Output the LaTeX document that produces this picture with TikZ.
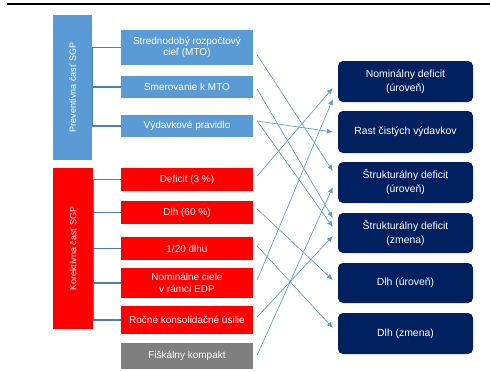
\documentclass[tikz,border=0pt]{standalone}
\usepackage{fontspec}
\setmainfont{Liberation Sans}
\usetikzlibrary{arrows.meta}
\definecolor{sgpblue}{HTML}{5B9BD5}
\definecolor{sgpred}{HTML}{FF0000}
\definecolor{sgpgray}{HTML}{7F7F7F}
\definecolor{sgpnavy}{HTML}{002060}
\definecolor{brcol}{HTML}{4A7EBB}
\definecolor{arcol}{HTML}{5B9BD5}
\tikzset{
  bar/.style={inner sep=0pt, text=white, font=\fontsize{9}{10}\selectfont, rotate=90},
  lbox/.style={inner sep=0pt, minimum width=132pt, text=white, align=center,
    font=\fontsize{10}{11.5}\selectfont},
  rbox/.style={inner sep=0pt, minimum width=135pt, text=white, align=center,
    fill=sgpnavy, rounded corners=5pt, font=\fontsize{10.4}{14}\selectfont},
  br/.style={draw=brcol, line width=1.1pt},
  link/.style={draw=arcol, line width=0.65pt, -{Latex[length=6pt,width=5pt]}}
}
\begin{document}
\begin{tikzpicture}[x=1pt,y=-1pt]
\useasboundingbox (0,0) rectangle (491,372);
\draw[line width=1.2pt] (7,4) -- (490,4);

% bars
\node[bar, fill=sgpblue, minimum width=145pt, minimum height=39pt] (prev) at (72.5,87.5) {Preventívna časť SGP};
\node[bar, fill=sgpred, minimum width=161pt, minimum height=40pt] (kor) at (73,248.5) {Korektívna časť SGP};

% left boxes
\node[lbox, fill=sgpblue, minimum height=35pt] (mto) at (187,47.5) {Strednodobý rozpočtový\\cieľ (MTO)};
\node[lbox, fill=sgpblue, minimum height=22pt] (smer) at (187,87) {Smerovanie k MTO};
\node[lbox, fill=sgpblue, minimum height=22pt] (vyd) at (187,126) {Výdavkové pravidlo};
\node[lbox, fill=sgpred, minimum height=23pt] (def) at (187,179.5) {Deficit (3 \%)};
\node[lbox, fill=sgpred, minimum height=23pt] (dlh) at (187,212.5) {Dlh (60 \%)};
\node[lbox, fill=sgpred, minimum height=23pt] (d20) at (187,248.5) {1/20 dlhu};
\node[lbox, fill=sgpred, minimum height=30pt] (nom) at (187,283) {Nominálne ciele\\v rámci EDP};
\node[lbox, fill=sgpred, minimum height=28pt] (roc) at (187,320) {Ročné konsolidačné úsilie};
\node[lbox, fill=sgpgray, minimum height=26pt] (fis) at (187,356) {Fiškálny kompakt};

% right boxes
\node[rbox, minimum height=41pt] (nd) at (405.5,81.5) {Nominálny deficit\\(úroveň)};
\node[rbox, minimum height=42pt] (rast) at (405.5,132) {Rast čistých výdavkov};
\node[rbox, minimum height=41pt] (su) at (405.5,182.5) {Štrukturálny deficit\\(úroveň)};
\node[rbox, minimum height=40pt] (sz) at (405.5,233) {Štrukturálny deficit\\(zmena)};
\node[rbox, minimum height=40pt] (du) at (405.5,283) {Dlh (úroveň)};
\node[rbox, minimum height=41pt] (dz) at (405.5,333.5) {Dlh (zmena)};

% brackets
\path (prev.south) ++(0,-15) coordinate (pj);
\path (kor.south) ++(0,-14) coordinate (kj);
\draw[br] ([yshift=-3pt]prev.south) -- (pj);
\foreach \n in {mto,smer,vyd} \draw[br] (pj) |- (\n.west);
\draw[br] ([yshift=-2pt]kor.south) -- (kj);
\foreach \n in {def,dlh,d20,nom,roc} \draw[br] (kj) |- (\n.west);

% links
\draw[link] ([xshift=4pt,yshift=-7.5pt]mto.east) -- ([xshift=-5pt,yshift=11.5pt]su.west);
\draw[link] ([xshift=4pt,yshift=-2pt]smer.east) -- ([xshift=-5pt,yshift=15pt]sz.west);
\draw[link] ([xshift=4pt,yshift=5pt]vyd.east) -- ([xshift=-5pt]rast.west);
\draw[link] ([xshift=4pt,yshift=5pt]vyd.east) -- ([xshift=-5pt,yshift=6pt]sz.west);
\draw[link] ([xshift=4pt,yshift=3.5pt]def.east) -- ([xshift=-5pt,yshift=-6.5pt]nd.west);
\draw[link] ([xshift=4pt,yshift=3.5pt]dlh.east) -- ([xshift=-5pt,yshift=3pt]du.west);
\draw[link] ([xshift=4pt,yshift=2.5pt]d20.east) -- ([xshift=-5pt,yshift=5.5pt]dz.west);
\draw[link] ([xshift=4pt,yshift=3pt]nom.east) -- ([xshift=-5pt,yshift=-17.5pt]nd.west);
\draw[link] ([xshift=4pt,yshift=3pt]roc.east) -- ([xshift=-5pt,yshift=-3pt]sz.west);
\draw[link] ([xshift=4pt,yshift=1pt]fis.east) -- ([xshift=-5pt,yshift=-4.5pt]su.west);
\end{tikzpicture}
\end{document}
